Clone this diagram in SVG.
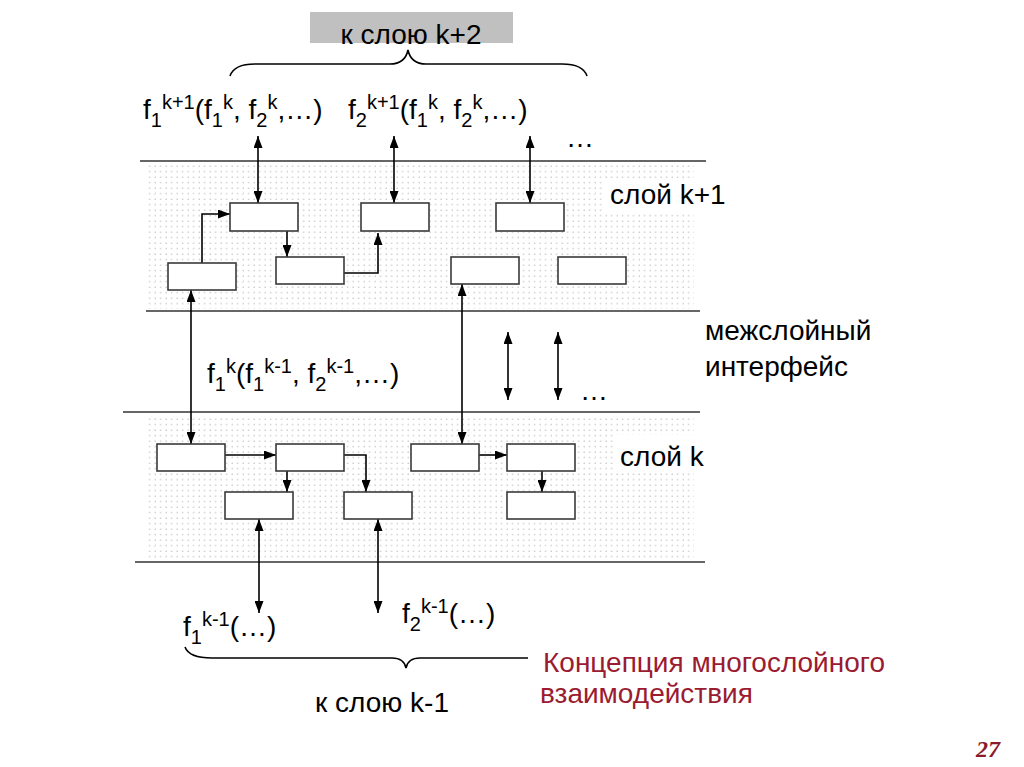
<svg xmlns="http://www.w3.org/2000/svg" width="1024" height="767" viewBox="0 0 1024 767">
<style>
.t{font-family:"Liberation Sans",Arial,sans-serif;font-size:28px;fill:#000}
.s{font-size:20px}
.red{fill:#9b1b30}
.box{fill:#fff;stroke:#3a3a3a;stroke-width:1.6}
.ln{stroke:#333;stroke-width:1.6;fill:none}
.c{stroke:#000;stroke-width:1.6;fill:none}
</style>
<defs>
<pattern id="dots" width="5.5" height="5.5" patternUnits="userSpaceOnUse">
<rect x="0.6" y="0.6" width="1.1" height="1.1" fill="#a8a8a8"/>
</pattern>
<marker id="ah" viewBox="0 0 12 9" markerWidth="12" markerHeight="9" refX="12" refY="4.5" orient="auto-start-reverse" markerUnits="userSpaceOnUse">
<path d="M0,0 L12,4.5 L0,9 z" fill="#000"/>
</marker>
</defs>
<rect width="1024" height="767" fill="#fff"/>

<g id="layers">
<rect x="147" y="164" width="547" height="145" fill="url(#dots)"/>
<rect x="147" y="415" width="547" height="144" fill="url(#dots)"/>
<line class="ln" x1="140" y1="161" x2="706" y2="161"/>
<line class="ln" x1="146" y1="311" x2="700" y2="311"/>
<line class="ln" x1="123" y1="412" x2="700" y2="412"/>
<line class="ln" x1="135" y1="562" x2="705" y2="562"/>
<rect x="604" y="178" width="90" height="34" fill="#fff"/>
<rect x="614" y="435" width="80" height="36" fill="#fff"/>
</g>

<g id="top-label">
<rect x="310" y="12" width="203" height="31" fill="#c0c0c0"/>
<text class="t" x="411" y="44" text-anchor="middle">к слою k+2</text>
<path class="c" d="M230,76 Q234,64 255,64 L390,64 Q405,64 408,50 Q411,64 426,64 L562,64 Q583,64 587,76"/>
</g>

<g id="formula-top-1">
<text class="t" x="143" y="119">f<tspan class="s" dy="8">1</tspan><tspan class="s" dy="-18">k+1</tspan><tspan dy="10">(f</tspan><tspan class="s" dy="8">1</tspan><tspan class="s" dy="-18">k</tspan><tspan dy="10">, f</tspan><tspan class="s" dy="8">2</tspan><tspan class="s" dy="-18">k</tspan><tspan dy="10">,…)</tspan></text>
</g>
<g id="formula-top-2">
<text class="t" x="348" y="119">f<tspan class="s" dy="8">2</tspan><tspan class="s" dy="-18">k+1</tspan><tspan dy="10">(f</tspan><tspan class="s" dy="8">1</tspan><tspan class="s" dy="-18">k</tspan><tspan dy="10">, f</tspan><tspan class="s" dy="8">2</tspan><tspan class="s" dy="-18">k</tspan><tspan dy="10">,…)</tspan></text>
</g>
<g id="dots-top"><text class="t" x="566" y="147">…</text></g>

<g id="label-layer-k1"><text class="t" x="610" y="204">слой k+1</text></g>
<g id="label-interface"><text class="t" x="705" y="340">межслойный</text><text class="t" x="705" y="376">интерфейс</text></g>
<g id="label-layer-k"><text class="t" x="620" y="466">слой k</text></g>
<g id="dots-mid"><text class="t" x="580" y="400">…</text></g>

<g id="formula-mid">
<text class="t" x="207" y="383">f<tspan class="s" dy="8">1</tspan><tspan class="s" dy="-18">k</tspan><tspan dy="10">(f</tspan><tspan class="s" dy="8">1</tspan><tspan class="s" dy="-18">k-1</tspan><tspan dy="10">, f</tspan><tspan class="s" dy="8">2</tspan><tspan class="s" dy="-18">k-1</tspan><tspan dy="10">,…)</tspan></text>
</g>

<g id="formula-bottom-1">
<text class="t" x="183" y="636">f<tspan class="s" dy="8">1</tspan><tspan class="s" dy="-18">k-1</tspan><tspan dy="10">(…)</tspan></text>
</g>
<g id="formula-bottom-2">
<text class="t" x="402" y="623">f<tspan class="s" dy="8">2</tspan><tspan class="s" dy="-18">k-1</tspan><tspan dy="10">(…)</tspan></text>
</g>

<g id="bottom-label">
<path class="c" d="M185,647 Q189,658 212,658 L392,658 Q404,658 406,668 Q408,658 420,658 L528,658"/>
<text class="t" x="382" y="712" text-anchor="middle">к слою k-1</text>
</g>

<g id="title">
<text class="t red" x="543" y="672">Концепция многослойного</text>
<text class="t red" x="540" y="703">взаимодействия</text>
</g>
<g id="page"><text x="1000" y="757" text-anchor="end" font-family="'Liberation Serif','Times New Roman',serif" font-size="24" font-weight="bold" font-style="italic" fill="#8b1a2b">27</text></g>

<g id="connectors">
<line class="c" x1="258" y1="136" x2="258" y2="203" marker-start="url(#ah)" marker-end="url(#ah)"/>
<line class="c" x1="394" y1="136" x2="394" y2="203" marker-start="url(#ah)" marker-end="url(#ah)"/>
<line class="c" x1="530" y1="136" x2="530" y2="203" marker-start="url(#ah)" marker-end="url(#ah)"/>
<path class="c" d="M202,263 V214 H230" marker-end="url(#ah)"/>
<path class="c" d="M287,230 V257" marker-end="url(#ah)"/>
<path class="c" d="M344,273 H378 V233" marker-end="url(#ah)"/>
<line class="c" x1="191" y1="290" x2="191" y2="444" marker-start="url(#ah)" marker-end="url(#ah)"/>
<line class="c" x1="462" y1="284" x2="462" y2="444" marker-start="url(#ah)" marker-end="url(#ah)"/>
<line class="c" x1="508" y1="332" x2="508" y2="400" marker-start="url(#ah)" marker-end="url(#ah)"/>
<line class="c" x1="558" y1="332" x2="558" y2="400" marker-start="url(#ah)" marker-end="url(#ah)"/>
<path class="c" d="M225,455 H276" marker-end="url(#ah)"/>
<path class="c" d="M287,471 V492" marker-end="url(#ah)"/>
<path class="c" d="M344,455 H366 V492" marker-end="url(#ah)"/>
<path class="c" d="M479,455 H507" marker-end="url(#ah)"/>
<path class="c" d="M542,471 V492" marker-end="url(#ah)"/>
<line class="c" x1="259" y1="519" x2="259" y2="613" marker-start="url(#ah)" marker-end="url(#ah)"/>
<line class="c" x1="378" y1="519" x2="378" y2="613" marker-start="url(#ah)" marker-end="url(#ah)"/>
</g>

<g id="nodeA"><rect class="box" x="230" y="203" width="68" height="28"/></g>
<g id="nodeB"><rect class="box" x="361" y="203" width="68" height="28"/></g>
<g id="nodeE"><rect class="box" x="496" y="203" width="68" height="28"/></g>
<g id="nodeC"><rect class="box" x="168" y="263" width="68" height="27"/></g>
<g id="nodeD"><rect class="box" x="276" y="257" width="68" height="27"/></g>
<g id="nodeF"><rect class="box" x="451" y="257" width="68" height="27"/></g>
<g id="nodeG"><rect class="box" x="558" y="257" width="68" height="27"/></g>
<g id="nodeH"><rect class="box" x="157" y="444" width="68" height="27"/></g>
<g id="nodeI"><rect class="box" x="276" y="444" width="68" height="27"/></g>
<g id="nodeL"><rect class="box" x="411" y="444" width="68" height="27"/></g>
<g id="nodeM"><rect class="box" x="507" y="444" width="68" height="27"/></g>
<g id="nodeJ"><rect class="box" x="225" y="492" width="68" height="27"/></g>
<g id="nodeK"><rect class="box" x="344" y="492" width="68" height="27"/></g>
<g id="nodeN"><rect class="box" x="507" y="492" width="68" height="27"/></g>
</svg>
